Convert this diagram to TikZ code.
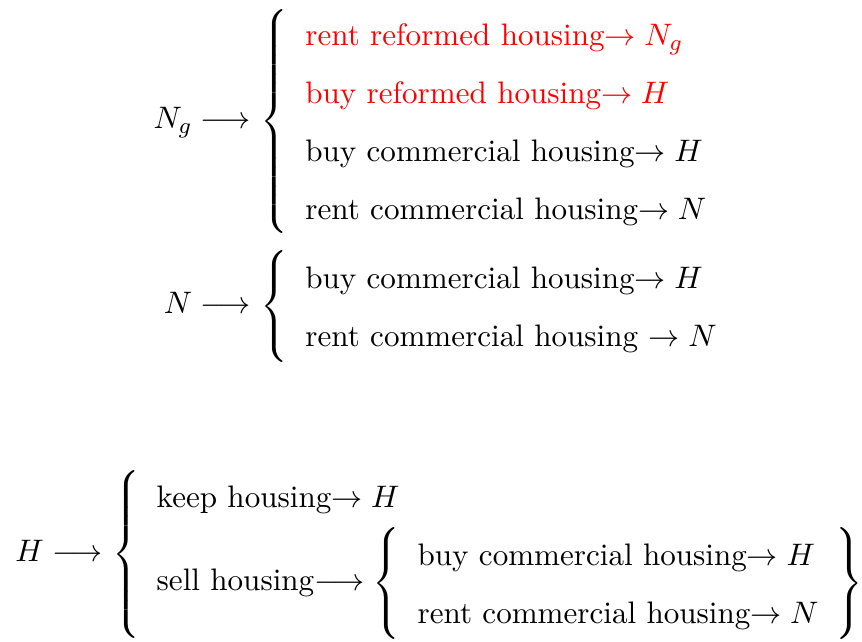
\documentclass[11pt,tikz,border=0pt]{standalone}
\usetikzlibrary{positioning}
\usepackage{xcolor}
\usepackage{amsmath,amssymb}
\renewcommand{\arraystretch}{1.5}
\tikzset{
  choices/.style={inner sep=0pt,anchor=west},
  src/.style={inner sep=0pt}
}

\begin{document}
\begin{tikzpicture}
  \useasboundingbox (0,0) rectangle (10.67,7.94);
  % N_g: newly formed households
  \node[choices] (ngc) at (3.22,6.44) {$\left\{\begin{tabular}{l}
      \textcolor{red}{rent reformed housing$\rightarrow N_g$}\\
      \textcolor{red}{buy reformed housing$\rightarrow H$}\\
      buy commercial housing$\rightarrow H$\\
      rent commercial housing$\rightarrow N$
    \end{tabular}\right.$};
  \node[src,base left=3pt of ngc] (ng) {$N_g\longrightarrow$};

  % N: renters
  \node[choices] (nc) at (3.22,4.15) {$\left\{\begin{tabular}{l}
      buy commercial housing$\rightarrow H$\\
      rent commercial housing $\rightarrow N$
    \end{tabular}\right.$};
  \node[src,base left=3pt of nc] (n) {$N\longrightarrow$};

  % H: home owners
  \node[choices] (hc) at (1.38,1.08) {$\left\{\begin{tabular}{l}
      keep housing$\rightarrow H$\\
      sell housing$\longrightarrow\left\{\begin{tabular}{l}
        buy commercial housing$\rightarrow H$\\
        rent commercial housing$\rightarrow N$
      \end{tabular}\right\}$
    \end{tabular}\right.$};
  \node[src,base left=3pt of hc] (h) {$H\longrightarrow$};
\end{tikzpicture}
\end{document}
